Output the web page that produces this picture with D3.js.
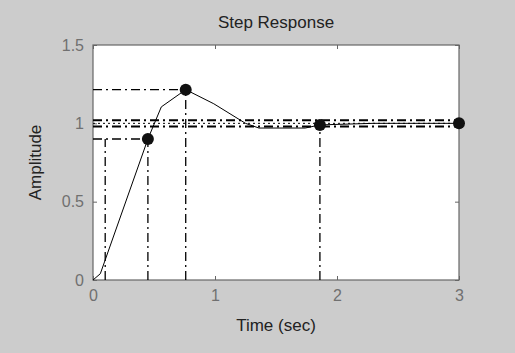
<!DOCTYPE html>
<html>
<head>
<meta charset="utf-8">
<script src="https://cdn.jsdelivr.net/npm/d3@7"></script>
<style>
  body { margin: 0; background: #cccccc; }
  text { font-family: "Liberation Sans", Arial, sans-serif; }
</style>
</head>
<body>
<div id="chart"></div>
<script>
// step response
var time = [0, 0.06, 0.45, 0.56, 0.76, 0.99, 1.25, 1.36, 1.74, 1.86, 2.3, 3.0];
var amp  = [0, 0.04, 0.9, 1.105, 1.215, 1.125, 1.0, 0.97, 0.97, 0.99, 1.0, 1.0];

// characteristic points (rise 90%, peak, settling, final)
var markT = [0.45, 0.76, 1.86, 3.0];
var markA = [0.9, 1.215, 0.99, 1.0];

var riseStart = 0.1;
var settleBand = [0.98, 1.02];
var finalValue = 1;

var xTicks = [0, 1, 2, 3];
var yTicks = [0, 0.5, 1, 1.5];

var W = 515, H = 353;
var margin = {top: 45, right: 56, bottom: 73, left: 93};
var width = W - margin.left - margin.right;
var height = H - margin.top - margin.bottom;

var root = d3.select("#chart").append("svg")
    .attr("width", W)
    .attr("height", H);

root.append("rect").attr("width", W).attr("height", H).attr("fill", "#cccccc");

var svg = root.append("g")
    .attr("transform", "translate(" + margin.left + "," + margin.top + ")");

var x = d3.scaleLinear().domain([0, 3]).range([0, width]);
var y = d3.scaleLinear().domain([0, 1.5]).range([height, 0]);

svg.append("rect")
    .attr("width", width)
    .attr("height", height)
    .attr("fill", "#ffffff");

// axes with inward ticks
function styleAxis(g, showText) {
    g.select(".domain").remove();
    g.selectAll("line").attr("stroke", "#666");
    g.selectAll("text")
        .attr("fill", "#707070")
        .style("font-size", "16px")
        .style("display", showText ? null : "none");
}
svg.append("g")
    .attr("transform", "translate(0," + height + ")")
    .call(d3.axisBottom(x).tickValues(xTicks).tickFormat(d3.format("d")).tickSizeInner(-4).tickPadding(10))
    .call(styleAxis, true);
svg.append("g")
    .call(d3.axisTop(x).tickValues(xTicks).tickSizeInner(-4))
    .call(styleAxis, false);
svg.append("g")
    .call(d3.axisLeft(y).tickValues(yTicks).tickFormat(function (d) { return d; }).tickSizeInner(-4).tickPadding(9))
    .call(styleAxis, true);
svg.append("g")
    .attr("transform", "translate(" + width + ",0)")
    .call(d3.axisRight(y).tickValues(yTicks).tickSizeInner(-4))
    .call(styleAxis, false);

svg.append("rect")
    .attr("width", width)
    .attr("height", height)
    .attr("fill", "none")
    .attr("stroke", "#666")
    .attr("stroke-width", 1.2);

// helper lines
var dashDot = "9,4,2,4";
function seg(x1, y1, x2, y2, dash, w) {
    svg.append("line")
        .attr("x1", x(x1)).attr("y1", y(y1))
        .attr("x2", x(x2)).attr("y2", y(y2))
        .attr("stroke", "#000")
        .attr("stroke-width", w || 1.3)
        .attr("stroke-dasharray", dash);
}

settleBand.forEach(function (v) { seg(0, v, 3, v, dashDot, 2); });
seg(0, finalValue, 3, finalValue, "2,3", 1);

seg(riseStart, 0, riseStart, markA[0], dashDot);
seg(0, markA[0], markT[0], markA[0], dashDot);
seg(markT[0], 0, markT[0], markA[0], dashDot);
seg(0, markA[1], markT[1], markA[1], dashDot);
seg(markT[1], 0, markT[1], markA[1], dashDot);
seg(markT[2], 0, markT[2], markA[2], dashDot);

// response curve
var pts = time.map(function (t, i) { return [t, amp[i]]; });
svg.append("path")
    .datum(pts)
    .attr("fill", "none")
    .attr("stroke", "#000")
    .attr("stroke-width", 1)
    .attr("d", d3.line().x(function (d) { return x(d[0]); }).y(function (d) { return y(d[1]); }));

svg.selectAll(".mark")
    .data(markT)
    .enter()
    .append("circle")
    .attr("cx", function (d) { return x(d); })
    .attr("cy", function (d, i) { return y(markA[i]); })
    .attr("r", 6)
    .attr("fill", "#111");

// labels
root.append("text")
    .attr("x", margin.left + width / 2)
    .attr("y", 28)
    .attr("text-anchor", "middle")
    .style("font-size", "17px")
    .attr("fill", "#222")
    .text("Step Response");

root.append("text")
    .attr("x", margin.left + width / 2)
    .attr("y", 331)
    .attr("text-anchor", "middle")
    .style("font-size", "17px")
    .attr("fill", "#222")
    .text("Time (sec)");

root.append("text")
    .attr("transform", "translate(41," + (margin.top + height / 2) + ") rotate(-90)")
    .attr("text-anchor", "middle")
    .style("font-size", "17px")
    .attr("fill", "#222")
    .text("Amplitude");
</script>
</body>
</html>
